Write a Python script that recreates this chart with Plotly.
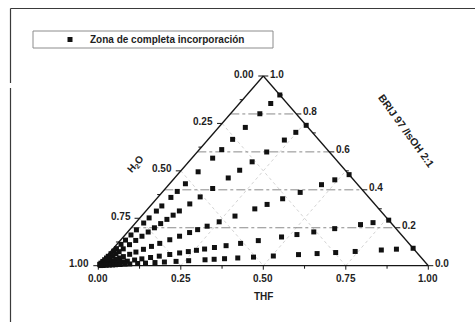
import plotly.graph_objects as go

# ---------------- data ----------------
# Ternary composition: H2O (left axis), THF (bottom axis), BRIJ 97 /IsOH 2:1 (right axis)
# Each dilution line starts on the H2O = 0 side with a given BRIJ share of the
# (BRIJ + THF) mixture; along the line the water fraction increases.
line_brij_share = [0.90, 0.74, 0.48, 0.24, 0.092]

h2o_line_1 = [0.00, 0.05, 0.11, 0.19, 0.26, 0.32, 0.37, 0.45, 0.52, 0.565, 0.60, 0.65,
              0.68, 0.72, 0.75, 0.79, 0.82, 0.85, 0.875, 0.90, 0.915, 0.93, 0.945,
              0.955, 0.965, 0.975, 0.985, 0.992]
h2o_line_2 = [0.00, 0.05, 0.105, 0.19, 0.26, 0.32, 0.375, 0.45, 0.51, 0.56, 0.61, 0.64,
              0.67, 0.70, 0.73, 0.76, 0.79, 0.82, 0.85, 0.88, 0.90, 0.915, 0.93, 0.945,
              0.96, 0.97, 0.98, 0.99]
h2o_line_3 = [0.00, 0.057, 0.11, 0.195, 0.265, 0.327, 0.376, 0.455, 0.518, 0.566, 0.604, 0.636,
              0.676, 0.715, 0.755, 0.788, 0.82, 0.85, 0.875, 0.90, 0.915, 0.93, 0.945,
              0.955, 0.965, 0.975, 0.985, 0.992]
h2o_line_4 = [0.00, 0.054, 0.097, 0.186, 0.258, 0.316, 0.369, 0.449, 0.51, 0.56, 0.60, 0.634,
              0.662, 0.69, 0.72, 0.754, 0.79, 0.82, 0.85, 0.875, 0.90, 0.915, 0.93, 0.945,
              0.96, 0.97, 0.98, 0.99]
h2o_line_5 = [0.00, 0.053, 0.101, 0.184, 0.246, 0.305, 0.364, 0.444, 0.507, 0.557, 0.599, 0.632,
              0.661, 0.713, 0.753, 0.79, 0.82, 0.85, 0.875, 0.90, 0.915, 0.93, 0.945,
              0.955, 0.965, 0.975, 0.985, 0.992]
h2o_lines = [h2o_line_1, h2o_line_2, h2o_line_3, h2o_line_4, h2o_line_5]

h2o_ticks = [0.00, 0.25, 0.50, 0.75, 1.00]
h2o_tick_labels = ["0.00", "0.25", "0.50", "0.75", "1.00"]
thf_ticks = [0.00, 0.25, 0.50, 0.75, 1.00]
thf_tick_labels = ["0.00", "0.25", "0.50", "0.75", "1.00"]
brij_ticks = [0.0, 0.2, 0.4, 0.6, 0.8, 1.0]
brij_tick_labels = ["0.0", "0.2", "0.4", "0.6", "0.8", "1.0"]
h2o_minor = [0.125, 0.375, 0.625, 0.875]
thf_minor = [0.125, 0.375, 0.625, 0.875]
brij_minor = [0.1, 0.3, 0.5, 0.7, 0.9]
brij_grid = [0.2, 0.4, 0.6, 0.8]
thf_grid = [0.25, 0.5, 0.75]
h2o_grid = [0.25, 0.5, 0.75]

series_name = "Zona de completa incorporación"
title_h2o = "H<sub>2</sub>O"
title_thf = "THF"
title_brij = "BRIJ 97 /IsOH 2:1"

# ---------------- ternary -> plane projection ----------------
def proj(thf, brij):
    return thf + 0.5 * brij, brij

px, py = [], []
for share, waters in zip(line_brij_share, h2o_lines):
    for w in waters:
        brij = (1 - w) * share
        thf = (1 - w) * (1 - share)
        x, y = proj(thf, brij)
        px.append(x)
        py.append(y)

W, H = 475, 322
# triangle vertices in the picture: (98.3, 265.7), (428.3, 265.7), (263.3, 76)
X0PX, Y0PX, SX, SY = 98.3, 265.7, 330.0, 189.7
X_RANGE = [-X0PX / SX, (W - X0PX) / SX]
Y_RANGE = [(Y0PX - H) / SY, Y0PX / SY]

def pix(xp, yp):
    # picture pixel -> plane coordinate (used only for the scanned frame)
    return (xp - X0PX) / SX, (Y0PX - yp) / SY

FONT = "Liberation Sans, Arial, sans-serif"
TXT = "#1e1e1e"

fig = go.Figure()
fig.add_trace(go.Scatter(
    x=px, y=py, mode="markers", name=series_name,
    marker=dict(symbol="square", size=5, color="#111111", line=dict(width=0)),
    showlegend=True, hoverinfo="skip"))

shapes = []

def seg(a, b, color, width, dash="solid", layer="below"):
    shapes.append(dict(type="line", xref="x", yref="y", x0=a[0], y0=a[1], x1=b[0], y1=b[1],
                       line=dict(color=color, width=width, dash=dash), layer=layer))

# outer frame of the scanned box: only its top and left edges are inside the picture
seg(pix(10.5, 8.5), pix(W + 2, 8.5), "#3a3a3a", 1.2, layer="above")
seg(pix(10.5, 8.5), pix(10.5, 83), "#3a3a3a", 1.2, layer="above")
seg(pix(10.5, 88), pix(10.5, H + 2), "#3a3a3a", 1.2, layer="above")

# legend frame
shapes.append(dict(type="rect", xref="paper", yref="paper", x0=33 / W, x1=273 / W,
                   y0=1 - 48 / H, y1=1 - 31 / H, line=dict(color="#8c8c8c", width=1),
                   fillcolor="white", layer="below"))

# faint grid lines of THF and H2O
for c in thf_grid:
    seg(proj(c, 0), proj(c, 1 - c), "#d4d4d4", 1, "dot")
for c in h2o_grid:
    seg(proj(0, 1 - c), proj(1 - c, 0), "#d4d4d4", 1, "dot")
# dash-dot grid of BRIJ
for c in brij_grid:
    seg((0.5 * c, c), (1 - 0.5 * c, c), "#8a8a8a", 1, "dashdot")

# triangle edges
A, B, C = proj(0, 0), proj(1, 0), proj(0, 1)
seg(A, B, "#151515", 1.3)
seg(B, C, "#151515", 1.3)
seg(C, A, "#151515", 1.3)

def tick(xa, ya, dx0, dx1, dy0, dy1):
    shapes.append(dict(type="line", xref="x", yref="y", xsizemode="pixel", ysizemode="pixel",
                       xanchor=xa, yanchor=ya, x0=dx0, x1=dx1, y0=dy0, y1=dy1,
                       line=dict(color="#151515", width=1), layer="below"))

for h in h2o_ticks:
    x, y = proj(0, 1 - h)
    tick(x, y, -5, 0, 0, 0)
for h in h2o_minor:
    x, y = proj(0, 1 - h)
    tick(x, y, -3, 0, 0, 0)
for t in thf_ticks:
    x, y = proj(t, 0)
    tick(x, y, 0, 0, -4, 0)
for t in thf_minor:
    x, y = proj(t, 0)
    tick(x, y, 0, 0, -3, 0)
for b in brij_ticks:
    x, y = proj(1 - b, b)
    tick(x, y, 0, 5, 0, 0)
for b in brij_minor:
    x, y = proj(1 - b, b)
    tick(x, y, 0, 3, 0, 0)

ann = []
def label(x, y, text, xanchor, xshift=0, yshift=0, size=10, angle=0):
    ann.append(dict(x=x, y=y, xref="x", yref="y", text=text, showarrow=False,
                    xanchor=xanchor, yanchor="middle", xshift=xshift, yshift=yshift,
                    textangle=angle,
                    font=dict(family=FONT, size=size, color=TXT, weight="bold")))

for h, lab in zip(h2o_ticks, h2o_tick_labels):
    x, y = proj(0, 1 - h)
    label(x, y, lab, "right", -7, 2)
for t, lab in zip(thf_ticks, thf_tick_labels):
    x, y = proj(t, 0)
    label(x, y, lab, "center", 0, -12.5)
for b, lab in zip(brij_ticks, brij_tick_labels):
    x, y = proj(1 - b, b)
    label(x, y, lab, "left", 5, 2)

mx, my = proj(0, 0.5)
label(mx, my, title_h2o, "center", -45, 7, 10, -49)
bx, by = proj(0.5, 0)
label(bx, by, title_thf, "center", 0, -30.5, 10)
rx, ry = proj(0.5, 0.5)
label(rx, ry, title_brij, "center", 61, 40, 10.5, 54)

fig.update_layout(
    width=W, height=H, autosize=False,
    margin=dict(l=0, r=0, t=0, b=0),
    paper_bgcolor="white", plot_bgcolor="white",
    xaxis=dict(range=X_RANGE, visible=False, fixedrange=True),
    yaxis=dict(range=Y_RANGE, visible=False, fixedrange=True),
    shapes=shapes, annotations=ann,
    showlegend=True,
    legend=dict(x=50 / W, y=1 - 39.5 / H, xanchor="left", yanchor="middle",
                bgcolor="rgba(0,0,0,0)", borderwidth=0,
                font=dict(family=FONT, size=10, color=TXT, weight="bold")),
)

fig.write_html("out.html", config={"displayModeBar": False},
               post_script="document.body.style.margin='0';")
